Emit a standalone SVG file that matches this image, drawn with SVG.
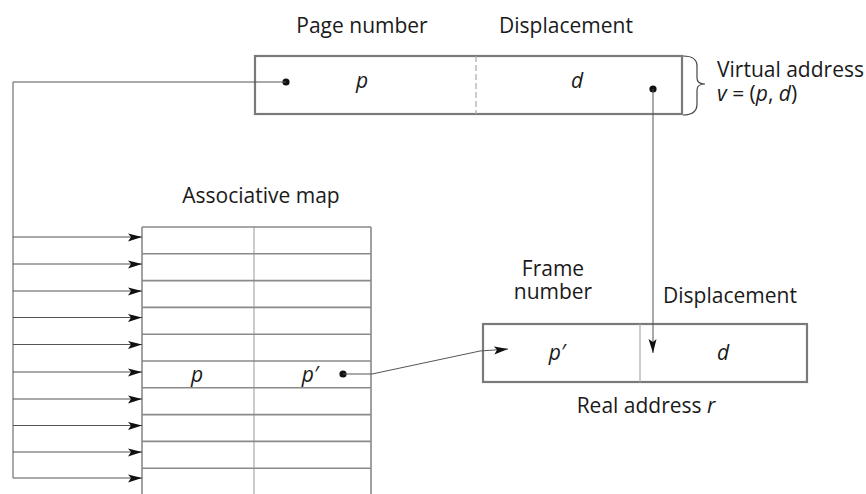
<svg xmlns="http://www.w3.org/2000/svg" width="866" height="494" viewBox="0 0 866 494">
<style>
text{font-family:"Open Sans","Noto Sans","Liberation Sans",sans-serif;font-size:21px;fill:#1a1a1a}
.i{font-style:italic}
.box{fill:none;stroke:#7a7a7a;stroke-width:2.2}
.row{stroke:#8a8a8a;stroke-width:1.6;fill:none}
.div{stroke:#aaa;stroke-width:1.2;fill:none}
.con{stroke:#555;stroke-width:1;fill:none}
.dot{fill:#111}
</style>
<defs>
<marker id="ah" markerUnits="userSpaceOnUse" markerWidth="16" markerHeight="10" refX="14" refY="4" orient="auto">
<path d="M0,0.5 L14,4 L0,8.5 L3,4 Z" fill="#111"/>
</marker>
</defs>
<g id="virtual-address">
<rect class="box" x="255" y="56" width="427" height="58"/>
<line class="div" x1="476" y1="56" x2="476" y2="114" stroke-dasharray="6,3"/>
<circle class="dot" cx="286" cy="82" r="3.6"/>
<circle class="dot" cx="653" cy="89" r="3.6"/>
<text class="i" x="362" y="88" text-anchor="middle">p</text>
<text class="i" x="577" y="88" text-anchor="middle">d</text>
<text x="362" y="33" text-anchor="middle">Page number</text>
<text x="566" y="33" text-anchor="middle">Displacement</text>
<path d="M683,56 Q697,56 697,66 V78 Q697,84 705,84 Q697,84 697,90 V104 Q697,115 683,115" fill="none" stroke="#444" stroke-width="1.2"/>
<text x="717" y="77">Virtual address</text>
<text x="717" y="101"><tspan class="i">v</tspan> = (<tspan class="i">p</tspan>, <tspan class="i">d</tspan>)</text>
</g>
<g id="associative-map">
<text x="261" y="203" text-anchor="middle">Associative map</text>
<line class="row" x1="142" y1="227" x2="142" y2="494"/>
<line class="row" x1="371" y1="227" x2="371" y2="494"/>
<line class="div" x1="254" y1="227" x2="254" y2="494"/>
<line class="row" x1="142" y1="227" x2="371" y2="227"/>
<line class="row" x1="142" y1="253.8" x2="371" y2="253.8"/>
<line class="row" x1="142" y1="280.6" x2="371" y2="280.6"/>
<line class="row" x1="142" y1="307.4" x2="371" y2="307.4"/>
<line class="row" x1="142" y1="334.2" x2="371" y2="334.2"/>
<line class="row" x1="142" y1="361" x2="371" y2="361"/>
<line class="row" x1="142" y1="387.8" x2="371" y2="387.8"/>
<line class="row" x1="142" y1="414.6" x2="371" y2="414.6"/>
<line class="row" x1="142" y1="441.4" x2="371" y2="441.4"/>
<line class="row" x1="142" y1="468.2" x2="371" y2="468.2"/>
<text class="i" x="197" y="382" text-anchor="middle">p</text>
<text class="i" x="310" y="382" text-anchor="middle">p′</text>
<circle class="dot" cx="343" cy="374" r="3.6"/>
</g>
<g id="real-address">
<rect class="box" x="483" y="324" width="324" height="58"/>
<line class="div" x1="640" y1="324" x2="640" y2="382"/>
<text class="i" x="557" y="360" text-anchor="middle">p′</text>
<text class="i" x="723" y="360" text-anchor="middle">d</text>
<text x="553" y="276" text-anchor="middle">Frame</text>
<text x="553" y="299" text-anchor="middle">number</text>
<text x="730" y="303" text-anchor="middle">Displacement</text>
<text x="646" y="413" text-anchor="middle">Real address <tspan class="i">r</tspan></text>
</g>
<g id="connectors">
<path class="con" d="M286,82 H13 V478"/>
<path class="con" d="M343,374 H372 L480,351 L508,349" marker-end="url(#ah)"/>
<path class="con" d="M653,89 V353" marker-end="url(#ah)"/>
<line class="con" x1="13" y1="237" x2="142" y2="237" marker-end="url(#ah)"/>
<line class="con" x1="13" y1="264" x2="142" y2="264" marker-end="url(#ah)"/>
<line class="con" x1="13" y1="291" x2="142" y2="291" marker-end="url(#ah)"/>
<line class="con" x1="13" y1="317.5" x2="142" y2="317.5" marker-end="url(#ah)"/>
<line class="con" x1="13" y1="344.5" x2="142" y2="344.5" marker-end="url(#ah)"/>
<line class="con" x1="13" y1="372" x2="142" y2="372" marker-end="url(#ah)"/>
<line class="con" x1="13" y1="399" x2="142" y2="399" marker-end="url(#ah)"/>
<line class="con" x1="13" y1="425.5" x2="142" y2="425.5" marker-end="url(#ah)"/>
<line class="con" x1="13" y1="452" x2="142" y2="452" marker-end="url(#ah)"/>
<line class="con" x1="13" y1="478" x2="142" y2="478" marker-end="url(#ah)"/>
</g>
</svg>
